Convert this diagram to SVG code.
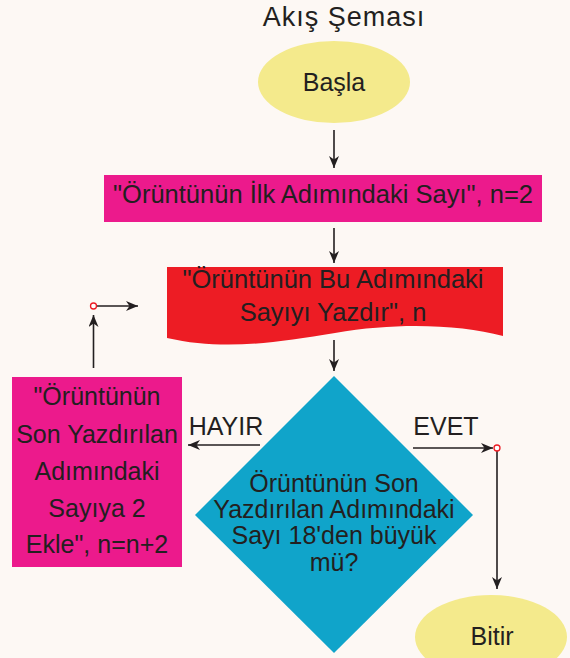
<svg xmlns="http://www.w3.org/2000/svg" width="570" height="658" viewBox="0 0 570 658">
<style>
text{font-family:"Liberation Sans",Arial,sans-serif;fill:#231f20;font-size:25px;text-anchor:middle}
.ln{stroke:#231f20;stroke-width:1.6;fill:none}
.dot{fill:#fff;stroke:#ed1c24;stroke-width:1.3}
</style>
<defs>
<marker id="ah" viewBox="0 0 12 10" refX="12" refY="5" markerWidth="12" markerHeight="10" markerUnits="userSpaceOnUse" orient="auto">
<path d="M0,0 L12,5 L0,10 L3.5,5 Z" fill="#231f20"/>
</marker>
</defs>
<rect width="570" height="658" fill="#fdf8f4"/>
<text x="344" y="26" style="font-size:27px;letter-spacing:1px">Akış Şeması</text>
<g id="start">
<ellipse cx="334" cy="82" rx="76" ry="41" fill="#f4ea8c"/>
<text x="334" y="91">Başla</text>
</g>
<g id="first">
<rect x="104" y="175" width="438" height="47" fill="#ec1a8c"/>
<text x="323" y="203" style="font-size:25.5px">"Örüntünün İlk Adımındaki Sayı", n=2</text>
</g>
<g id="print">
<path d="M167,267 H503 V336 C460,325 400,322 335,333 C270,344 220,350 167,338 Z" fill="#ed1c24"/>
<text x="333" y="288" style="font-size:25.5px">"Örüntünün Bu Adımındaki</text>
<text x="333" y="321" style="font-size:25.5px">Sayıyı Yazdır", n</text>
</g>
<g id="decision">
<polygon points="334,376 473,515 334,653 195,515" fill="#10a4ca"/>
<text x="334" y="492">Örüntünün Son</text>
<text x="334" y="518">Yazdırılan Adımındaki</text>
<text x="334" y="544">Sayı 18'den büyük</text>
<text x="334" y="571">mü?</text>
</g>
<g id="add">
<rect x="12" y="377" width="170" height="190" fill="#ec1a8c"/>
<text x="97" y="405">"Örüntünün</text>
<text x="97" y="443">Son Yazdırılan</text>
<text x="97" y="480">Adımındaki</text>
<text x="97" y="517">Sayıya 2</text>
<text x="97" y="553">Ekle", n=n+2</text>
</g>
<g id="end">
<ellipse cx="491" cy="637" rx="76" ry="42" fill="#f4ea8c"/>
<text x="492" y="645">Bitir</text>
</g>
<g id="connectors">
<line class="ln" x1="334" y1="130" x2="334" y2="168" marker-end="url(#ah)"/>
<line class="ln" x1="334" y1="228" x2="334" y2="263" marker-end="url(#ah)"/>
<line class="ln" x1="334" y1="340" x2="334" y2="371" marker-end="url(#ah)"/>
<line class="ln" x1="260" y1="445" x2="188" y2="445" marker-end="url(#ah)"/>
<text x="226" y="435">HAYIR</text>
<line class="ln" x1="413" y1="448" x2="493" y2="448" marker-end="url(#ah)"/>
<text x="446" y="435">EVET</text>
<line class="ln" x1="497" y1="451" x2="497" y2="589" marker-end="url(#ah)"/>
<circle class="dot" cx="497" cy="448" r="3"/>
<line class="ln" x1="93.5" y1="368" x2="93.5" y2="315" marker-end="url(#ah)"/>
<line class="ln" x1="96.5" y1="306" x2="138" y2="306" marker-end="url(#ah)"/>
<circle class="dot" cx="93.5" cy="306" r="3"/>
</g>
</svg>
